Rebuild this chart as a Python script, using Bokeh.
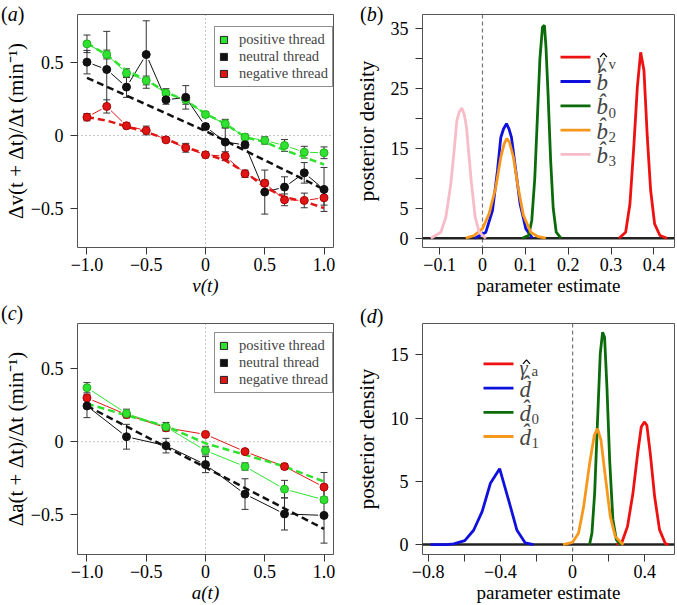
import math
from bokeh.plotting import figure
from bokeh.models import Range1d, Span, Label, Legend, LegendItem, FixedTicker, Div
from bokeh.layouts import row, column
from bokeh.embed import file_html
from bokeh.resources import INLINE

# ---------------- data: panel (a) ----------------
va_x = [-1, -5/6, -2/3, -1/2, -1/3, -1/6, 0, 1/6, 1/3, 1/2, 2/3, 5/6, 1]
va_pos = [0.625, 0.552, 0.425, 0.375, 0.289, 0.243, 0.143, 0.080, -0.011, -0.034, -0.068, -0.114, -0.118]
va_pos_err = [0.06, 0.03, 0.03, 0.03, 0.03, 0.03, 0.02, 0.03, 0.02, 0.025, 0.04, 0.04, 0.04]
va_neu = [0.50, 0.45, 0.33, 0.552, 0.243, 0.26, 0.061, -0.045, -0.064, -0.386, -0.352, -0.255, -0.368]
va_neu_err = [0.08, 0.26, 0.07, 0.23, 0.03, 0.08, 0.02, 0.10, 0.02, 0.15, 0.07, 0.07, 0.15]
va_neg = [0.125, 0.198, 0.066, 0.034, -0.03, -0.084, -0.132, -0.141, -0.261, -0.325, -0.439, -0.443, -0.425]
va_neg_err = [0.025, 0.045, 0.02, 0.03, 0.01, 0.03, 0.02, 0.03, 0.025, 0.02, 0.04, 0.05, 0.05]
va_pos_fit = [0.629, 0.55, 0.443, 0.38, 0.295, 0.239, 0.148, 0.08, -0.011, -0.045, -0.10, -0.148, -0.198]
va_neu_fit_x = [-1, 0, 1]
va_neu_fit = [0.393, 0.030, -0.368]
va_neg_fit = [0.125, 0.102, 0.061, 0.023, -0.023, -0.08, -0.125, -0.17, -0.25, -0.352, -0.42, -0.45, -0.495]

# ---------------- data: panel (c) ----------------
ac_x = [-1, -2/3, -1/3, 0, 1/3, 2/3, 1]
ac_pos = [0.37, 0.193, 0.102, -0.061, -0.17, -0.325, -0.398]
ac_pos_err = [0.035, 0.03, 0.03, 0.03, 0.025, 0.06, 0.02]
ac_neu = [0.245, 0.034, -0.027, -0.157, -0.359, -0.495, -0.505]
ac_neu_err = [0.08, 0.085, 0.05, 0.055, 0.105, 0.11, 0.19]
ac_neg = [0.30, 0.186, 0.095, 0.05, -0.068, -0.17, -0.311]
ac_neg_err = [0.01, 0.015, 0.015, 0.01, 0.015, 0.02, 0.10]
ac_pos_fit = [0.261, 0.18, 0.107, -0.011, -0.09, -0.17, -0.273]
ac_neu_fit_x = [-1, 1]
ac_neu_fit = [0.245, -0.598]

# ---------------- data: panel (b) ----------------
b3_x = [-0.1205, -0.0972, -0.0855, -0.0739, -0.0662, -0.0599, -0.0545, -0.0483, -0.0429, -0.0373, -0.0327, -0.0257, -0.0171, -0.0078, 0.0078]
b3_y = [0, 1.0, 3.5, 9.1, 14.6, 19.6, 21.0, 21.7, 20.7, 18.5, 14.6, 9.1, 3.5, 1.0, 0]
b_x = [-0.018, 0.0078, 0.0233, 0.035, 0.0427, 0.049, 0.056, 0.062, 0.0676, 0.0776, 0.0877, 0.101, 0.1166]
b_y = [0, 1.0, 4.6, 11.3, 16.8, 18.2, 19.1, 18.2, 16.8, 11.3, 5.7, 1.6, 0]
b2_x = [-0.039, -0.0195, 0, 0.0155, 0.031, 0.0427, 0.0504, 0.0566, 0.063, 0.0722, 0.083, 0.0955, 0.1126, 0.128, 0.1476]
b2_y = [0, 0.45, 1.6, 4.1, 8.5, 13.5, 15.7, 16.6, 16.0, 13.5, 8.5, 3.8, 1.0, 0.3, 0]
b0_x = [0.093, 0.108, 0.115, 0.122, 0.128, 0.134, 0.140, 0.1445, 0.148, 0.153, 0.159, 0.165, 0.172, 0.183]
b0_y = [0, 0.5, 3, 10, 20, 30, 35.2, 35.5, 32, 24, 13, 5, 1, 0]
gv_x = [0.3185, 0.334, 0.344, 0.3534, 0.3613, 0.369, 0.3767, 0.3846, 0.3923, 0.4016, 0.414, 0.431]
gv_y = [0, 1.0, 5.7, 15.7, 25.2, 31.0, 28, 16.8, 8.0, 2.4, 0.45, 0]

# ---------------- data: panel (d) ----------------
d_x = [-0.787, -0.70, -0.658, -0.597, -0.548, -0.501, -0.455, -0.404, -0.352, -0.308, -0.262, -0.216]
d_y = [0, 0, 0.05, 0.31, 1.13, 2.6, 4.85, 6.0, 3.4, 1.13, 0.13, 0]
d1_x = [-0.053, 0, 0.033, 0.061, 0.094, 0.12, 0.138, 0.157, 0.181, 0.2085, 0.236, 0.273, 0.282]
d1_y = [0, 0.18, 0.92, 3.0, 6.4, 8.65, 9.18, 8.26, 5.4, 2.23, 0.65, 0.08, 0]
d0_x = [0.094, 0.107, 0.122, 0.138, 0.153, 0.166, 0.177, 0.19, 0.205, 0.223, 0.242, 0.264]
d0_y = [0, 0.92, 4.07, 9.83, 15.1, 16.8, 16.4, 12.45, 6.7, 1.97, 0.39, 0]
ga_x = [0.242, 0.273, 0.304, 0.334, 0.36, 0.38, 0.397, 0.411, 0.43, 0.454, 0.481, 0.513, 0.531]
ga_y = [0, 0.18, 1.44, 4.07, 7.2, 9.3, 9.7, 9.44, 7.2, 3.8, 1.18, 0.08, 0]

# ---------------- tick labels ----------------
ac_ticks = [-1, -0.5, 0, 0.5, 1]
ac_tick_labels = ["\u22121.0", "\u22120.5", "0", "0.5", "1.0"]
resp_ticks = [-0.5, 0, 0.5]
resp_tick_labels = ["\u22120.5", "0", "0.5"]
b_xticks = [-0.1, 0, 0.1, 0.2, 0.3, 0.4]
b_xtick_labels = ["\u22120.1", "0", "0.1", "0.2", "0.3", "0.4"]
b_yticks = [0, 5, 10, 15, 20, 25, 30, 35]
b_ytick_labels = ["0", "5", "", "15", "", "25", "", "35"]
d_xticks = [-0.8, -0.6, -0.4, -0.2, 0, 0.2, 0.4]
d_xtick_labels = ["\u22120.8", "", "\u22120.4", "", "0", "", "0.4"]
d_yticks = [0, 5, 10, 15]
d_ytick_labels = ["0", "5", "10", "15"]

series_names = ["positive thread", "neutral thread", "negative thread"]
b_legend_main = ["\u03b3", "b\u0302", "b\u0302", "b\u0302", "b\u0302"]
b_legend_sub = ["v", "", "0", "2", "3"]
d_legend_main = ["\u03b3", "d\u0302", "d\u0302", "d\u0302"]
d_legend_sub = ["a", "", "0", "1"]
panel_letters = ["a", "b", "c", "d"]

SERIF = "'Liberation Serif', 'Times New Roman', serif"
GREEN = "#2fe22f"
RED = "#e01515"
BLACK = "#111111"
EBAR = "#333333"
C_RED, C_BLUE, C_DGREEN, C_ORANGE, C_PINK = "#ee1111", "#1010dd", "#0b6b0b", "#f7981c", "#f8bcc8"


class Geo:
    def __init__(self, w, h, bl, br, bt, bb, xr, yr):
        self.w, self.h, self.bl, self.br, self.bt, self.bb = w, h, bl, br, bt, bb
        self.xr, self.yr = xr, yr
        self.fw = w - bl - br
        self.fh = h - bt - bb
        self.kx = self.fw / (xr[1] - xr[0])
        self.ky = self.fh / (yr[1] - yr[0])

    def px(self, dx, dy):
        """offset in px from the frame's top-left corner -> data coords"""
        return self.xr[0] + dx / self.kx, self.yr[1] - dy / self.ky


def base_fig(g):
    p = figure(width=g.w, height=g.h, x_range=Range1d(*g.xr), y_range=Range1d(*g.yr),
               output_backend="svg", toolbar_location=None,
               min_border_left=g.bl, min_border_right=g.br,
               min_border_top=g.bt, min_border_bottom=g.bb)
    p.grid.visible = False
    p.outline_line_color = "#555555"
    p.outline_line_width = 1
    p.background_fill_color = "white"
    p.border_fill_color = "white"
    for ax in (p.xaxis[0], p.yaxis[0]):
        ax.axis_line_color = None
        ax.major_tick_out = 7
        ax.major_tick_in = 0
        ax.major_tick_line_color = "#333333"
        ax.minor_tick_line_color = None
        ax.major_label_text_font = SERIF
        ax.major_label_text_font_size = "18px"
        ax.major_label_text_color = "black"
        ax.axis_label_text_font = SERIF
        ax.axis_label_text_font_style = "normal"
        ax.axis_label_text_color = "black"
        ax.axis_label_text_font_size = "19px"
        ax.axis_label_standoff = 1
        ax.major_label_standoff = 3
    p.yaxis[0].axis_label_text_font_size = "21px"
    p.yaxis[0].major_label_standoff = 7
    return p


def set_ticks(axis, ticks, labels):
    axis.ticker = FixedTicker(ticks=ticks)
    axis.major_label_overrides = {t: l for t, l in zip(ticks, labels)}


def gapped(xs, ys, kx, ky, gap):
    x0, y0, x1, y1 = [], [], [], []
    for i in range(len(xs) - 1):
        dx = xs[i + 1] - xs[i]
        dy = ys[i + 1] - ys[i]
        d = math.hypot(dx * kx, dy * ky)
        if d <= 2 * gap:
            continue
        f = gap / d
        x0.append(xs[i] + dx * f)
        y0.append(ys[i] + dy * f)
        x1.append(xs[i + 1] - dx * f)
        y1.append(ys[i + 1] - dy * f)
    return x0, y0, x1, y1


def series(p, xs, ys, errs, color, g):
    s = gapped(xs, ys, g.kx, g.ky, 6)
    p.segment(s[0], s[1], s[2], s[3], line_color=color, line_width=1)
    lo = [y - e for y, e in zip(ys, errs)]
    hi = [y + e for y, e in zip(ys, errs)]
    p.segment(xs, lo, xs, hi, line_color=EBAR, line_width=1)
    p.scatter(xs, lo, marker="dash", size=7, line_color=EBAR, line_width=1)
    p.scatter(xs, hi, marker="dash", size=7, line_color=EBAR, line_width=1)


def response_panel(g, xs, pos, pos_e, neu, neu_e, neg, neg_e, fits, ylabel, xlabel,
                   leg_top, leg_bottom):
    p = base_fig(g)
    p.add_layout(Span(location=0, dimension="width", line_color="#888888",
                      line_dash="1 3", line_width=1, level="underlay"))
    p.add_layout(Span(location=0, dimension="height", line_color="#888888",
                      line_dash="1 3", line_width=1, level="underlay"))
    # zero-size swatch renderers (hidden under the first point) used for the legend
    sw = []
    for ys, c in ((pos, GREEN), (neu, BLACK), (neg, RED)):
        sw.append(p.rect(x=xs[:1], y=ys[:1], width=0, height=0, fill_color=c,
                         line_color="#222222", line_width=1))
    series(p, xs, neg, neg_e, RED, g)
    series(p, xs, pos, pos_e, GREEN, g)
    series(p, xs, neu, neu_e, BLACK, g)
    for fx, fy, col in fits:
        p.line(fx, fy, line_color=col, line_width=2.5, line_dash="7 4")
    p.scatter(xs, neg, size=8, fill_color=RED, line_color="#aa0000", line_width=1)
    p.scatter(xs, pos, size=8, fill_color=GREEN, line_color="#22b022", line_width=1)
    p.scatter(xs, neu, size=8, fill_color=BLACK, line_color=BLACK, line_width=1)
    set_ticks(p.xaxis[0], ac_ticks, ac_tick_labels)
    set_ticks(p.yaxis[0], resp_ticks, resp_tick_labels)
    p.xaxis[0].axis_label = xlabel
    p.xaxis[0].axis_label_text_font_style = "italic"
    p.yaxis[0].axis_label = ylabel
    p.yaxis[0].axis_label_standoff = 0
    nitems = 3
    pad = 4
    item_h = (leg_bottom - leg_top - 2 * pad) / nitems
    leg = Legend(items=[LegendItem(label=n, renderers=[r]) for n, r in zip(series_names, sw)],
                 location=(137, g.fh - leg_bottom), padding=pad, margin=0, spacing=0,
                 glyph_width=9, glyph_height=9, label_height=int(item_h), label_standoff=11,
                 label_text_font=SERIF, label_text_font_size="14.5px",
                 label_text_baseline="middle",
                 border_line_color="#222222", border_line_width=1,
                 background_fill_color="white", background_fill_alpha=1)
    p.add_layout(leg)
    return p


def density_panel(g, curves, mains, subs, xt, xtl, yt, ytl, leg_x, leg_top):
    p = base_fig(g)
    p.add_layout(Span(location=0, dimension="height", line_color="#777777",
                      line_dash="4 3", line_width=1.2, level="underlay"))
    p.add_layout(Span(location=0, dimension="width", line_color="#222222",
                      line_width=2.6, level="underlay"))
    for xs, ys, col in curves:
        p.line(xs, ys, line_color=col, line_width=2.8)
    set_ticks(p.xaxis[0], xt, xtl)
    set_ticks(p.yaxis[0], yt, ytl)
    p.xaxis[0].axis_label = "parameter estimate"
    p.yaxis[0].axis_label = "posterior density"
    p.yaxis[0].axis_label_standoff = 9
    # hand-made legend: short line, symbol with a hat, upright subscript
    pitch = 24.3
    for i, (c, m, s) in enumerate(zip([c[2] for c in curves], mains, subs)):
        cy = leg_top + i * pitch
        xa, ya = g.px(leg_x, cy)
        xb, _ = g.px(leg_x + 30, cy)
        p.segment([xa], [ya], [xb], [ya], line_color=c, line_width=2.8)
        tx0 = leg_x + 36
        if m == "\u03b3":
            tx, ty = g.px(tx0, cy + 4)
            p.add_layout(Label(x=tx, y=ty, text=m, text_font=SERIF, text_font_style="italic",
                               text_font_size="21px", text_baseline="middle", text_align="left"))
            # circumflex accent drawn above the gamma
            hx = [g.px(tx0 + dx, cy + dy)[0] for dx, dy in ((3.5, 0), (7, -4), (10.5, 0))]
            hy = [g.px(tx0 + dx, cy + dy)[1] for dx, dy in ((3.5, 0), (7, -4), (10.5, 0))]
            p.line(hx, hy, line_color="black", line_width=1.2)
        else:
            tx, ty = g.px(tx0, cy + 1)
            p.add_layout(Label(x=tx, y=ty, text=m, text_font=SERIF, text_font_style="italic",
                               text_font_size="23px", text_baseline="middle", text_align="left"))
        if s:
            sx, sy = g.px(tx0 + 12, cy + 7)
            p.add_layout(Label(x=sx, y=sy, text=s, text_font=SERIF, text_font_style="normal",
                               text_font_size="15px", text_baseline="middle", text_align="left"))
    return p


ga_geo = Geo(340, 300, 72, 7, 14, 53, (-1.08, 1.08), (-0.764, 0.825))
gb_geo = Geo(337, 300, 82, 3, 14, 53, (-0.14, 0.448), (-1.55, 37.3))
gc_geo = Geo(340, 305, 72, 7, 23, 50, (-1.08, 1.08), (-0.773, 0.81))
gd_geo = Geo(337, 305, 82, 3, 23, 50, (-0.831, 0.564), (-0.787, 17.49))

pa = response_panel(ga_geo, va_x, va_pos, va_pos_err, va_neu, va_neu_err, va_neg, va_neg_err,
                     [(va_x, va_pos_fit, GREEN), (va_neu_fit_x, va_neu_fit, BLACK), (va_x, va_neg_fit, RED)],
                     "\u0394v(t + \u0394t)/\u0394t (min\u207b\u00b9)", "v(t)", 19, 73)

pc = response_panel(gc_geo, ac_x, ac_pos, ac_pos_err, ac_neu, ac_neu_err, ac_neg, ac_neg_err,
                     [(ac_x, ac_pos_fit, GREEN), (ac_neu_fit_x, ac_neu_fit, BLACK)],
                     "\u0394a(t + \u0394t)/\u0394t (min\u207b\u00b9)", "a(t)", 14, 71)

pb = density_panel(gb_geo,
                   [(gv_x, gv_y, C_RED), (b_x, b_y, C_BLUE), (b0_x, b0_y, C_DGREEN),
                    (b2_x, b2_y, C_ORANGE), (b3_x, b3_y, C_PINK)],
                   b_legend_main, b_legend_sub,
                   b_xticks, b_xtick_labels, b_yticks, b_ytick_labels, 138, 42.7)

pd = density_panel(gd_geo,
                   [(ga_x, ga_y, C_RED), (d_x, d_y, C_BLUE), (d0_x, d0_y, C_DGREEN),
                    (d1_x, d1_y, C_ORANGE)],
                   d_legend_main, d_legend_sub,
                   d_xticks, d_xtick_labels, d_yticks, d_ytick_labels, 61, 40.6)

# panel letters as absolutely positioned text blocks (left, top in page px)
letter_pos = [(1, 2), (360, 2), (1, 301), (360, 304)]
divs = []
for letter, (lx, ly) in zip(panel_letters, letter_pos):
    divs.append(Div(text=f'<span style="font-family: {SERIF}; font-size: 20px; line-height: 24px;">'
                         f'(<i>{letter}</i>)</span>',
                    width=30, height=24,
                    styles={"position": "absolute", "left": f"{lx}px", "top": f"{ly}px",
                            "margin": "0", "padding": "0"}))

layout = column(row(pa, pb), row(pc, pd), *divs)
open("out.html", "w").write(file_html(layout, INLINE))
